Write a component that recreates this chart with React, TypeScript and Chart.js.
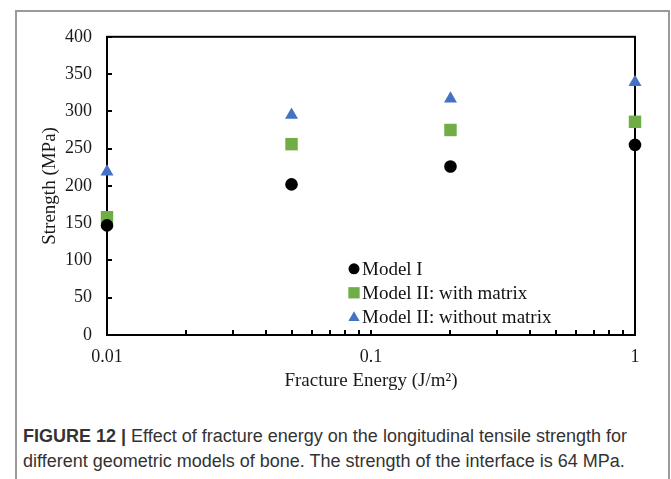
import React, { useEffect, useRef } from "react";
import { Chart, registerables } from "chart.js";

Chart.register(...registerables);

// ---- data ----
const fractureEnergy = [0.01, 0.05, 0.2, 1];
const modelI = [147, 202, 226, 255];
const modelIIWithMatrix = [158, 256, 275, 286];
const modelIIWithoutMatrix = [219, 295, 317, 339];
const seriesLabels = ["Model I", "Model II: with matrix", "Model II: without matrix"];
const xTickValues = [
  0.01, 0.02, 0.03, 0.04, 0.05, 0.06, 0.07, 0.08, 0.09,
  0.1, 0.2, 0.3, 0.4, 0.5, 0.6, 0.7, 0.8, 0.9, 1,
];
const xTickLabels = ["0.01", "0.1", "1"];
const yMin = 0;
const yMax = 400;
const yStep = 50;
const xTitle = "Fracture Energy (J/m²)";
const yTitle = "Strength (MPa)";

const SERIF = "'Liberation Serif', 'Times New Roman', serif";

function drawMarker(ctx: CanvasRenderingContext2D, style: string, x: number, y: number, r: number, color: string) {
  ctx.save();
  ctx.fillStyle = color;
  ctx.beginPath();
  if (style === "circle") {
    ctx.arc(x, y, r, 0, Math.PI * 2);
  } else if (style === "rect") {
    const s = r * Math.SQRT1_2;
    ctx.rect(x - s, y - s, 2 * s, 2 * s);
  } else {
    const h = r * Math.sqrt(3) / 2;
    ctx.moveTo(x, y - r);
    ctx.lineTo(x + h, y + r / 2);
    ctx.lineTo(x - h, y + r / 2);
    ctx.closePath();
  }
  ctx.fill();
  ctx.restore();
}

const frameAndTicks = {
  id: "frameAndTicks",
  beforeDatasetsDraw(chart: any) {
    const { ctx, chartArea: a, scales } = chart;
    ctx.save();
    ctx.strokeStyle = "#000";
    ctx.lineWidth = 2;
    ctx.beginPath();
    scales.y.ticks.forEach((t: any) => {
      const py = Math.round(scales.y.getPixelForValue(t.value));
      ctx.moveTo(a.left, py);
      ctx.lineTo(a.left + 5, py);
    });
    scales.x.ticks.forEach((t: any) => {
      const px = Math.round(scales.x.getPixelForValue(t.value));
      ctx.moveTo(px, a.bottom);
      ctx.lineTo(px, a.bottom - 5);
    });
    ctx.stroke();
    ctx.strokeRect(a.left, a.top, a.right - a.left, a.bottom - a.top);
    ctx.restore();
  },
};

const innerLegend = {
  id: "innerLegend",
  afterDatasetsDraw(chart: any) {
    const { ctx, chartArea: a } = chart;
    const x0 = a.left + 247;
    const y0 = a.top + 232;
    const gap = 24;
    ctx.save();
    ctx.font = `19px ${SERIF}`;
    ctx.textBaseline = "middle";
    ctx.textAlign = "left";
    chart.data.datasets.forEach((ds: any, i: number) => {
      const y = y0 + i * gap;
      const style = ds.pointStyle;
      const r = style === "circle" ? 5.5 : style === "rect" ? 8 : 6.5;
      drawMarker(ctx, style, x0, style === "triangle" ? y + 1 : y, r, ds.backgroundColor);
      ctx.fillStyle = "#111";
      ctx.fillText(ds.label, x0 + 8, y + 1);
    });
    ctx.restore();
  },
};

export default function App() {
  const canvasRef = useRef<HTMLCanvasElement | null>(null);

  useEffect(() => {
    const canvas = canvasRef.current;
    if (!canvas) return;
    const mk = (vals: number[]) => fractureEnergy.map((x, i) => ({ x, y: vals[i] }));
    const chart = new Chart(canvas, {
      type: "scatter",
      data: {
        datasets: [
          {
            label: seriesLabels[0],
            data: mk(modelI),
            pointStyle: "circle",
            pointRadius: 6.3,
            backgroundColor: "#000000",
            borderColor: "#000000",
            borderWidth: 0,
            clip: false,
          },
          {
            label: seriesLabels[1],
            data: mk(modelIIWithMatrix),
            pointStyle: "rect",
            pointRadius: 8.8,
            backgroundColor: "#70AD47",
            borderColor: "#70AD47",
            borderWidth: 0,
            clip: false,
          },
          {
            label: seriesLabels[2],
            data: mk(modelIIWithoutMatrix),
            pointStyle: "triangle",
            pointRadius: 7.5,
            backgroundColor: "#4472C4",
            borderColor: "#4472C4",
            borderWidth: 0,
            clip: false,
          },
        ] as any,
      },
      options: {
        animation: false,
        responsive: false,
        maintainAspectRatio: false,
        layout: { padding: { top: 22, right: 31, left: 0, bottom: 0 } },
        plugins: {
          legend: { display: false },
          tooltip: { enabled: false },
        },
        scales: {
          x: {
            type: "logarithmic",
            min: 0.01,
            max: 1,
            afterBuildTicks: (scale: any) => {
              scale.ticks = xTickValues.map((v) => ({ value: v }));
            },
            afterFit: (scale: any) => {
              scale.height = 71;
            },
            grid: { display: true, drawOnChartArea: false, drawTicks: false },
            border: { display: false },
            ticks: {
              autoSkip: false,
              maxRotation: 0,
              padding: 11,
              color: "#1a1a1a",
              font: { family: SERIF, size: 18 },
              callback: (v: any) => {
                const s = String(Number(v));
                return xTickLabels.includes(s) ? s : "";
              },
            },
            title: {
              display: true,
              text: xTitle,
              color: "#1a1a1a",
              font: { family: SERIF, size: 19 },
              padding: { top: 0, bottom: 13.5 },
            },
          },
          y: {
            type: "linear",
            min: yMin,
            max: yMax,
            afterFit: (scale: any) => {
              scale.width = 91;
            },
            grid: { display: true, drawOnChartArea: false, drawTicks: false },
            border: { display: false },
            ticks: {
              stepSize: yStep,
              padding: 15,
              color: "#1a1a1a",
              font: { family: SERIF, size: 18 },
            },
            title: {
              display: true,
              text: yTitle,
              color: "#1a1a1a",
              font: { family: SERIF, size: 19 },
              padding: { top: 22.5, bottom: 0 },
            },
          },
        },
      } as any,
      plugins: [frameAndTicks, innerLegend],
    });
    return () => chart.destroy();
  }, []);

  return (
    <div
      style={{
        position: "fixed",
        left: 0,
        top: 0,
        width: 671,
        height: 479,
        overflow: "hidden",
        background: "#fff",
      }}
    >
      <div
        style={{
          position: "absolute",
          left: 15,
          top: 10,
          width: 651,
          height: 520,
          border: "2px solid #9a9a9a",
        }}
      />
      <canvas
        ref={canvasRef}
        width={650}
        height={395}
        style={{ position: "absolute", left: 16, top: 11, width: 650, height: 395 }}
      />
      <div
        style={{
          position: "absolute",
          left: 23,
          top: 424,
          fontFamily: "'Liberation Sans', Arial, sans-serif",
          fontSize: 18,
          lineHeight: "25px",
          color: "#333",
          whiteSpace: "nowrap",
        }}
      >
        <span style={{ fontWeight: "bold" }}>FIGURE 12 |</span> Effect of fracture energy on the longitudinal tensile strength for
        <br />
        different geometric models of bone. The strength of the interface is 64 MPa.
      </div>
    </div>
  );
}
